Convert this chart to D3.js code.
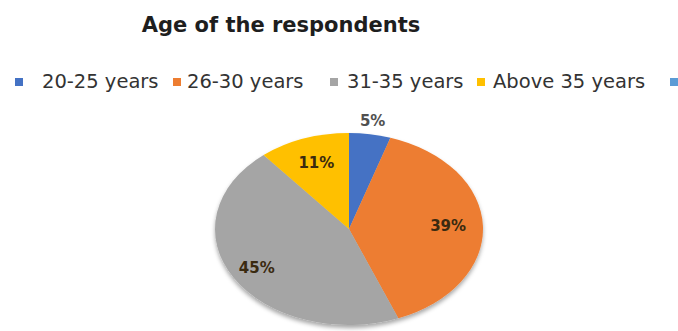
<!DOCTYPE html>
<html>
<head>
<meta charset="utf-8">
<script src="https://cdn.jsdelivr.net/npm/d3@7"></script>
<style>
  body { margin: 0; background: #fff; }
</style>
</head>
<body>
<div id="chart"></div>
<script>
var width  = 678;
var height = 331;

// data
var categories = ["20-25 years", "26-30 years", "31-35 years", "Above 35 years", ""];
var values     = [5, 39, 45, 11, 0];
var colours    = ["#4472C4", "#ED7D31", "#A5A5A5", "#FFC000", "#5B9BD5"];

var svg = d3.select("#chart")
  .append("svg")
    .attr("width", width)
    .attr("height", height)
    .style("font-family", "'DejaVu Sans', sans-serif");

var defs = svg.append("defs");
var f = defs.append("filter").attr("id", "shadow")
  .attr("x", "-10%").attr("y", "-10%").attr("width", "120%").attr("height", "130%");
f.append("feDropShadow").attr("dx", 0).attr("dy", 3).attr("stdDeviation", 2)
  .attr("flood-color", "#000").attr("flood-opacity", 0.35);

// title
svg.append("text")
    .attr("x", 281)
    .attr("y", 32)
    .attr("text-anchor", "middle")
    .attr("font-size", 21)
    .attr("font-weight", "bold")
    .attr("fill", "#1e1e1e")
    .text("Age of the respondents");

// legend
var legendBox  = [15, 173, 330, 477, 670];
var legendText = [42, 187, 347, 493, 690];
var legend = svg.selectAll("g.leg")
  .data(categories)
  .enter().append("g")
    .attr("class", "leg");

legend.append("rect")
    .attr("x", function(d, i) { return legendBox[i]; })
    .attr("y", 78)
    .attr("width", 8).attr("height", 8)
    .attr("fill", function(d, i) { return colours[i]; });

legend.append("text")
    .attr("x", function(d, i) { return legendText[i]; })
    .attr("y", 82)
    .attr("dominant-baseline", "middle")
    .attr("font-size", 19.5)
    .attr("fill", "#333")
    .text(function(d) { return d; });

// pie, drawn as circle then squashed into an ellipse
var cx = 349, cy = 229, rx = 134, ry = 96;

var pie = d3.pie().sort(null).value(function(d) { return d; });
var arcs = pie(values);
var arc = d3.arc().innerRadius(0).outerRadius(rx);

var g = svg.append("g")
    .attr("transform", "translate(" + cx + "," + cy + ")")
    .attr("filter", "url(#shadow)");

g.append("g")
    .attr("transform", "scale(1," + (ry / rx) + ")")
  .selectAll("path")
  .data(arcs)
  .enter().append("path")
    .attr("d", arc)
    .attr("fill", function(d, i) { return colours[i]; });

// labels
var labelR = [1.13, 0.74, 0.8, 0.72, 0];
svg.append("g")
    .attr("transform", "translate(" + cx + "," + cy + ")")
  .selectAll("text")
  .data(arcs.filter(function(d) { return d.data > 0; }))
  .enter().append("text")
    .attr("x", function(d, i) {
      var a = (d.startAngle + d.endAngle) / 2;
      return Math.sin(a) * rx * labelR[i];
    })
    .attr("y", function(d, i) {
      var a = (d.startAngle + d.endAngle) / 2;
      return -Math.cos(a) * ry * labelR[i];
    })
    .attr("text-anchor", "middle")
    .attr("dominant-baseline", "middle")
    .attr("font-size", 15)
    .attr("font-weight", "bold")
    .attr("fill", function(d, i) { return i == 0 ? "#505050" : "#3a2a10"; })
    .text(function(d) { return d.data + "%"; });
</script>
</body>
</html>
